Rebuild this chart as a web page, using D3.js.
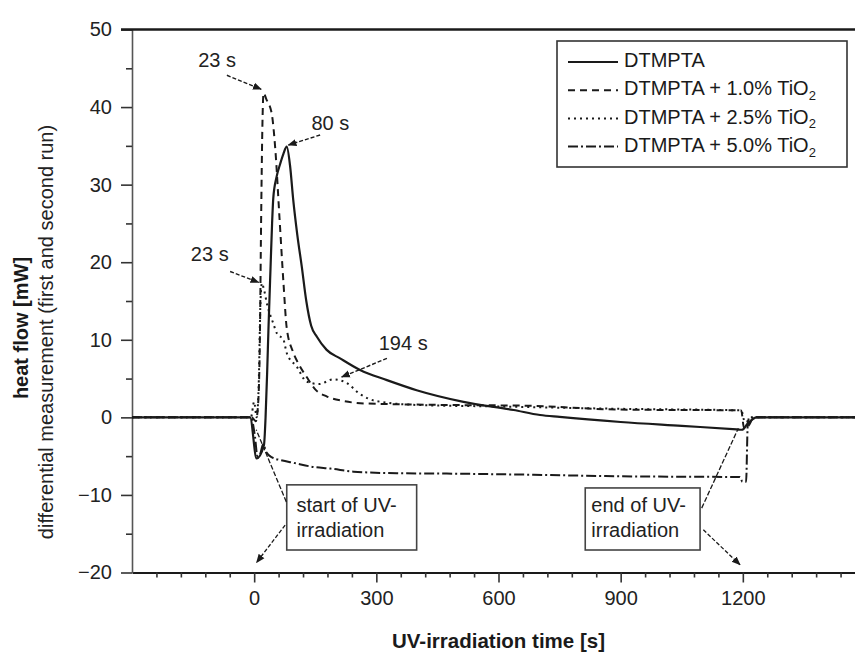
<!DOCTYPE html>
<html>
<head>
<meta charset="utf-8">
<script src="https://cdnjs.cloudflare.com/ajax/libs/d3/7.8.5/d3.min.js"></script>
<style>
    body { margin: 0; background: #fff; }
    svg { display: block; font-family: "Liberation Sans", Arial, sans-serif; }
</style>
</head>
<body>
<svg width="855" height="653"></svg>
<script>
// heat flow curves, [time s, heat flow mW]
const dtmpta = [[-300,0],[-10,0],[6,-5.3],[24,-3.6],[28,0],[32,6],[35,11.2],[40,19],[44,25],[47,28.3],[55,31],[64,32.7],[72,34],[80,34.9],
    [88,32.5],[96,28],[106,23.5],[117,19.4],[128,15],[140,11.8],[154,10.4],[178,8.7],[211,7.6],[260,6.1],[326,4.8],[399,3.5],
    [514,2.0],[637,0.95],[702,0.3],[750,0.05],[900,-0.6],[1050,-1.1],[1185,-1.55],[1198,-1.6],[1212,-0.8],[1234,0],[1500,0]];
const tio2_10 = [[-300,0],[-6,0],[4,-0.5],[10,2],[14,10],[17,25],[20,37],[23,41.8],[30,41],[43,39.2],[52,34.5],[62,25.9],[72,17.3],
    [80,11.5],[95,8.5],[110,6.8],[129,5.2],[150,3.6],[178,2.7],[220,2.1],[270,1.8],[470,1.6],[670,1.5],[900,1.0],[1196,0.9],
    [1203,-1.4],[1212,-1.2],[1228,0],[1500,0]];
const tio2_25 = [[-300,0],[-8,0],[0,2],[6,0],[11,4],[15,14],[19,17.3],[24,16.5],[32,14.5],[47,12.1],[56,10.8],[72,10],[80,8.3],
    [105,6.5],[129,4.6],[160,4.3],[194,4.9],[225,4.5],[260,3.0],[300,2.1],[400,1.6],[600,1.4],[900,1.1],[1196,0.9],[1205,-0.6],
    [1230,0],[1500,0]];
const tio2_50 = [[-300,0],[-8,0],[2,-2.5],[8,-5],[14,-4.8],[22,-3.5],[30,-4.5],[45,-5.2],[64,-5.5],[100,-5.9],[146,-6.4],[187,-6.6],
    [244,-7.0],[350,-7.2],[473,-7.25],[686,-7.4],[899,-7.6],[1193,-7.7],[1199,-8.3],[1208,-8.3],[1212,-1],[1216,0],[1500,0]];

const seriesNames = ["DTMPTA", "DTMPTA + 1.0% TiO", "DTMPTA + 2.5% TiO", "DTMPTA + 5.0% TiO"];
const seriesData = [dtmpta, tio2_10, tio2_25, tio2_50];
const dashes = [null, "7,5", "2,4", "10,3,2,3"];

const xTicks = [0, 300, 600, 900, 1200];
const yTicks = [-20, -10, 0, 10, 20, 30, 40, 50];

// peak labels: text, label position, arrow start, arrow tip (data units)
const peakNotes = [
    { text: "23 s", at: [-91, 45.8], from: [-67, 44.1], to: [17, 42.3] },
    { text: "80 s", at: [187, 37.7], from: [162, 36.4], to: [84, 35.1] },
    { text: "23 s", at: [-109, 20.9], from: [-59, 18.8], to: [11, 17.4] },
    { text: "194 s", at: [366, 9.3], from: [326, 7.6], to: [215, 5.2] }
];
// boxed notes: lines, box corners, line to curve, arrow to axis
const boxNotes = [
    { lines: ["start of UV-", "irradiation"], box: [80, 399, -8.7, -17.1], textT: 104,
      link: [[79, -10.9], [5, -1.6]], arrow: [[76, -13.9], [6, -18.7]] },
    { lines: ["end of UV-", "irradiation"], box: [813, 1095, -9.1, -17.1], textT: 828,
      link: [[1099, -11.7], [1189, -1.4]], arrow: [[1103, -14.5], [1193, -19.0]] }
];

const svg = d3.select("svg");
const x = d3.scaleLinear().domain([-300, 1500]).range([132, 865]);
const y = d3.scaleLinear().domain([-20, 50]).range([572.5, 29.5]);
const ink = "#1a1a1a";

svg.append("defs").append("marker")
    .attr("id", "head")
    .attr("viewBox", "0 0 10 10")
    .attr("refX", 9).attr("refY", 5)
    .attr("markerWidth", 9).attr("markerHeight", 9)
    .attr("markerUnits", "userSpaceOnUse")
    .attr("orient", "auto")
    .append("path")
    .attr("d", "M0,1 L10,5 L0,9 Z")
    .attr("fill", ink);

svg.select("defs").append("clipPath").attr("id", "plot")
    .append("rect").attr("x", 132).attr("y", 20).attr("width", 733).attr("height", 560);

// axes
const bottom = svg.append("g").attr("transform", "translate(0,572.5)")
    .call(d3.axisBottom(x).tickValues(xTicks).tickSize(10).tickSizeOuter(0).tickPadding(8).tickFormat(d3.format("d")));
svg.append("g").attr("transform", "translate(0,572.5)")
    .call(d3.axisBottom(x).tickValues(d3.range(-240, 1500, 60).filter(d => d % 300 !== 0)).tickSize(5).tickFormat(""))
    .call(g => g.select(".domain").remove());
const left = svg.append("g").attr("transform", "translate(132,0)")
    .call(d3.axisLeft(y).tickValues(yTicks).tickSize(11).tickSizeOuter(0).tickPadding(9));
svg.append("g").attr("transform", "translate(132,0)")
    .call(d3.axisLeft(y).tickValues(d3.range(-15, 50, 10)).tickSize(6).tickFormat(""))
    .call(g => g.select(".domain").remove());

svg.selectAll(".tick text").attr("font-size", 20).attr("fill", "#222")
    .attr("font-family", "Liberation Sans, Arial, sans-serif");
svg.selectAll(".tick line").attr("stroke", "#333").attr("stroke-width", 1.6);
bottom.select(".domain").attr("stroke", ink).attr("stroke-width", 2.2);
left.select(".domain").attr("stroke", "#555").attr("stroke-width", 1.6);

svg.append("line")
    .attr("x1", 121).attr("x2", x(1500))
    .attr("y1", y(50)).attr("y2", y(50))
    .attr("stroke", ink).attr("stroke-width", 2.4);

// axis titles
svg.append("text")
    .attr("x", x(600)).attr("y", 643)
    .attr("text-anchor", "middle").attr("dominant-baseline", "middle")
    .attr("font-size", 20.5).attr("font-weight", "bold").attr("fill", ink)
    .text("UV-irradiation time [s]");
svg.append("text")
    .attr("transform", "translate(23,328) rotate(-90)")
    .attr("text-anchor", "middle").attr("dominant-baseline", "middle")
    .attr("font-size", 20).attr("font-weight", "bold").attr("fill", ink)
    .text("heat flow [mW]");
svg.append("text")
    .attr("transform", "translate(48,332) rotate(-90)")
    .attr("text-anchor", "middle").attr("dominant-baseline", "middle")
    .attr("font-size", 20).attr("fill", "#222")
    .text("differential measurement (first and second run)");

// curves
const line = d3.line().x(d => x(d[0])).y(d => y(d[1])).curve(d3.curveMonotoneX);
svg.append("g").attr("clip-path", "url(#plot)")
    .selectAll("path")
    .data(seriesData)
    .join("path")
    .attr("d", line)
    .attr("fill", "none")
    .attr("stroke", ink)
    .attr("stroke-width", (d, i) => i === 0 ? 2.2 : 2)
    .attr("stroke-dasharray", (d, i) => dashes[i]);

// peak annotations
peakNotes.forEach(n => {
    svg.append("text")
        .attr("x", x(n.at[0])).attr("y", y(n.at[1]))
        .attr("text-anchor", "middle").attr("dominant-baseline", "middle")
        .attr("font-size", 20).attr("fill", "#222")
        .text(n.text);
    svg.append("line")
        .attr("x1", x(n.from[0])).attr("y1", y(n.from[1]))
        .attr("x2", x(n.to[0])).attr("y2", y(n.to[1]))
        .attr("stroke", ink).attr("stroke-width", 1.4)
        .attr("stroke-dasharray", "4,2")
        .attr("marker-end", "url(#head)");
});

// boxed notes
boxNotes.forEach(n => {
    svg.append("rect")
        .attr("x", x(n.box[0])).attr("y", y(n.box[2]))
        .attr("width", x(n.box[1]) - x(n.box[0]))
        .attr("height", y(n.box[3]) - y(n.box[2]))
        .attr("fill", "#fff").attr("stroke", "#444").attr("stroke-width", 1.6);
    n.lines.forEach((t, i) => {
        svg.append("text")
            .attr("x", x(n.textT)).attr("y", y(-11.5 - i * 3.25))
            .attr("dominant-baseline", "middle")
            .attr("font-size", 20).attr("fill", "#222")
            .text(t);
    });
    svg.append("line")
        .attr("x1", x(n.link[0][0])).attr("y1", y(n.link[0][1]))
        .attr("x2", x(n.link[1][0])).attr("y2", y(n.link[1][1]))
        .attr("stroke", ink).attr("stroke-width", 1.3)
        .attr("stroke-dasharray", "5,2");
    svg.append("line")
        .attr("x1", x(n.arrow[0][0])).attr("y1", y(n.arrow[0][1]))
        .attr("x2", x(n.arrow[1][0])).attr("y2", y(n.arrow[1][1]))
        .attr("stroke", ink).attr("stroke-width", 1.3)
        .attr("stroke-dasharray", "4,2")
        .attr("marker-end", "url(#head)");
});

// legend
const legend = svg.append("g");
legend.append("rect")
    .attr("x", 557).attr("y", 41).attr("width", 290).attr("height", 126)
    .attr("fill", "#fff").attr("stroke", "#333").attr("stroke-width", 1.6);
seriesNames.forEach((name, i) => {
    const ry = 62 + i * 28.2;
    legend.append("line")
        .attr("x1", 568).attr("x2", 618).attr("y1", ry).attr("y2", ry)
        .attr("stroke", ink).attr("stroke-width", 2)
        .attr("stroke-dasharray", dashes[i]);
    const t = legend.append("text")
        .attr("x", 624).attr("y", ry)
        .attr("dominant-baseline", "middle")
        .attr("font-size", 20).attr("fill", ink)
        .text(name);
    if (i > 0) {
        t.append("tspan").attr("dy", 7).attr("font-size", 13).text("2");
    }
});
</script>
</body>
</html>
